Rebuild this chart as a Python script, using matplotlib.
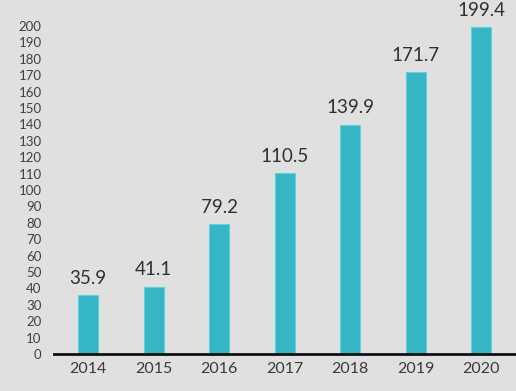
import matplotlib.pyplot as plt
import numpy as np

years = ['2014', '2015', '2016', '2017', '2018', '2019', '2020']
values = [35.9, 41.1, 79.2, 110.5, 139.9, 171.7, 199.4]
yticks = list(range(0, 201, 10))

plt.rcParams['font.family'] = ['Lato', 'DejaVu Sans']

fig = plt.figure(figsize=(5.16, 3.91), dpi=100)
fig.patch.set_facecolor('#e0e0e0')
ax = fig.add_axes([0.105, 0.0946, 0.895, 0.839])
ax.set_facecolor('#e0e0e0')

x = np.arange(len(years))
ax.bar(x, values, width=0.3, color='#36b6c4', edgecolor='#5fd0dc', linewidth=0.8)

for xi, v in zip(x, values):
    ax.text(xi, v + 5, f'{v:.1f}', ha='center', va='bottom', fontsize=13.5,
            color='#303030', clip_on=False)

ax.set_xlim(-0.52, 6.53)
ax.set_ylim(0, 200)
ax.set_xticks(x)
ax.set_xticklabels(years, fontsize=11.5, color='#3a3a3a')
ax.set_yticks(yticks)
ax.set_yticklabels([str(t) for t in yticks], fontsize=9.5, color='#404040')
ax.tick_params(axis='both', length=0)
ax.tick_params(axis='y', pad=9)
ax.tick_params(axis='x', pad=6)

for s in ['top', 'right', 'left']:
    ax.spines[s].set_visible(False)
ax.spines['bottom'].set_linewidth(2)
ax.spines['bottom'].set_color('#111111')

fig.savefig('out.png', dpi=100, facecolor=fig.get_facecolor())
